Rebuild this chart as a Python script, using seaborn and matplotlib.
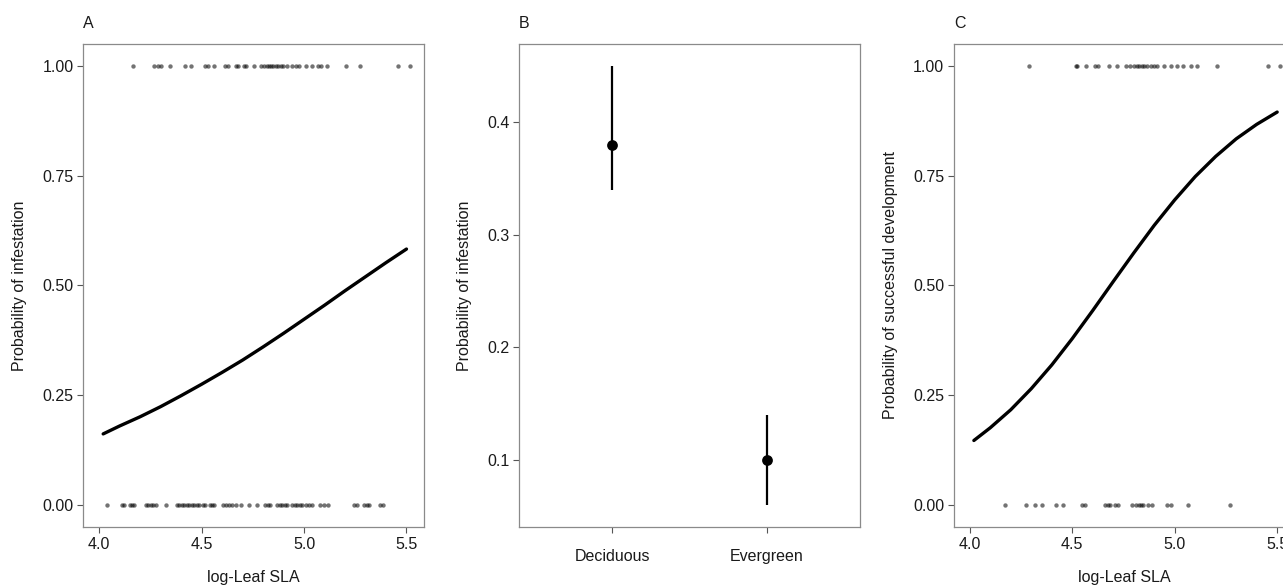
import numpy as np
import pandas as pd
import matplotlib
matplotlib.use('Agg')
import matplotlib.pyplot as plt
import seaborn as sns

# panel A: log leaf SLA of infested (1) and non-infested (0) species
sla_infested = [4.164, 4.270, 4.286, 4.302, 4.346, 4.420, 4.448, 4.515, 4.530, 4.562,
                4.613, 4.629, 4.668, 4.678, 4.709, 4.719, 4.755, 4.791, 4.804, 4.817,
                4.828, 4.840, 4.850, 4.861, 4.873, 4.886, 4.899, 4.915, 4.943, 4.959,
                4.976, 5.008, 5.041, 5.066, 5.082, 5.111, 5.207, 5.271, 5.457, 5.519]
sla_uninfested = [4.039, 4.113, 4.122, 4.150, 4.162, 4.171, 4.228, 4.240, 4.251, 4.264,
                  4.276, 4.327, 4.382, 4.392, 4.403, 4.415, 4.428, 4.441, 4.453, 4.464,
                  4.477, 4.490, 4.507, 4.518, 4.539, 4.551, 4.562, 4.607, 4.620, 4.632,
                  4.648, 4.668, 4.694, 4.730, 4.771, 4.812, 4.825, 4.836, 4.869, 4.882,
                  4.894, 4.907, 4.918, 4.943, 4.954, 4.967, 4.980, 4.992, 5.008, 5.024,
                  5.041, 5.078, 5.098, 5.118, 5.245, 5.261, 5.294, 5.307, 5.318, 5.373,
                  5.384]

# panel C: log leaf SLA where development succeeded (1) or failed (0)
sla_developed = [4.291, 4.516, 4.524, 4.565, 4.613, 4.627, 4.678, 4.719, 4.760, 4.784,
                 4.801, 4.814, 4.825, 4.841, 4.849, 4.866, 4.882, 4.898, 4.915, 4.947,
                 4.980, 5.009, 5.041, 5.081, 5.110, 5.204, 5.454, 5.516]
sla_failed = [4.171, 4.275, 4.316, 4.350, 4.423, 4.454, 4.549, 4.561, 4.662, 4.674,
              4.682, 4.711, 4.724, 4.792, 4.809, 4.825, 4.836, 4.846, 4.871, 4.887,
              4.963, 4.983, 5.064, 5.272]

# fitted curves
curve_sla = [4.02, 4.1, 4.2, 4.3, 4.4, 4.5, 4.6, 4.7, 4.8, 4.9, 5.0, 5.1, 5.2, 5.3, 5.4, 5.5]
curve_infest = [0.162, 0.180, 0.201, 0.224, 0.249, 0.275, 0.302, 0.330, 0.360, 0.391,
                0.423, 0.455, 0.488, 0.520, 0.552, 0.583]
curve_develop = [0.147, 0.176, 0.217, 0.265, 0.319, 0.379, 0.443, 0.509, 0.574, 0.637,
                 0.695, 0.748, 0.794, 0.834, 0.867, 0.895]

# panel B: leaf habit
habit = ['Deciduous', 'Evergreen']
habit_prob = [0.38, 0.10]
habit_lo = [0.34, 0.06]
habit_hi = [0.45, 0.14]

sns.set_style('white')
plt.rcParams['font.family'] = ['Liberation Sans', 'DejaVu Sans']

FRAME = '#8a8a8a'
TXT = 11.5


def binary_df(ones, zeros):
    return pd.DataFrame({
        'sla': list(ones) + list(zeros),
        'outcome': [1.0] * len(ones) + [0.0] * len(zeros),
    })


def style_axes(ax, letter, ylabel, xlabel=''):
    for sp in ax.spines.values():
        sp.set_visible(True)
        sp.set_color(FRAME)
        sp.set_linewidth(0.9)
    ax.tick_params(axis='both', direction='out', length=4, width=0.8,
                   color='#555555', labelcolor='#1a1a1a', labelsize=TXT, pad=3,
                   bottom=True, left=True)
    ax.set_ylabel(ylabel, fontsize=TXT, color='#1a1a1a', labelpad=11)
    ax.set_xlabel(xlabel, fontsize=TXT, color='#1a1a1a', labelpad=13)
    ax.text(0, 1.043, letter, transform=ax.transAxes, ha='left', va='center',
            fontsize=TXT, color='#1a1a1a')


def logistic_panel(ax, ones, zeros, cx, cy, letter, ylabel):
    df = binary_df(ones, zeros)
    sns.scatterplot(data=df, x='sla', y='outcome', ax=ax, color='black',
                    alpha=0.55, s=10, linewidth=0, legend=False)
    sns.lineplot(x=cx, y=cy, ax=ax, color='black', linewidth=2.4,
                 estimator=None, sort=True)
    ax.set_xlim(3.923, 5.587)
    ax.set_ylim(-0.05, 1.05)
    ax.set_xticks([4.0, 4.5, 5.0, 5.5])
    ax.set_xticklabels(['4.0', '4.5', '5.0', '5.5'])
    ax.set_yticks([0, 0.25, 0.5, 0.75, 1.0])
    ax.set_yticklabels(['0.00', '0.25', '0.50', '0.75', '1.00'])
    style_axes(ax, letter, ylabel, 'log-Leaf SLA')


fig = plt.figure(figsize=(12.83, 5.86), dpi=100)
bottom, height = 0.1007, 0.8242
width = 341 / 1283
ax_a = fig.add_axes([83.3 / 1283, bottom, width, height])
ax_b = fig.add_axes([519 / 1283, bottom, width, height])
ax_c = fig.add_axes([954 / 1283, bottom, width, height])

logistic_panel(ax_a, sla_infested, sla_uninfested, curve_sla, curve_infest,
               'A', 'Probability of infestation')
logistic_panel(ax_c, sla_developed, sla_failed, curve_sla, curve_develop,
               'C', 'Probability of successful development')

# panel B: point estimates with confidence intervals
hdf = pd.DataFrame({'habit': habit, 'prob': habit_prob,
                    'lo': habit_lo, 'hi': habit_hi})
ax_b.vlines(hdf['habit'], hdf['lo'], hdf['hi'], color='black', linewidth=1.6)
sns.scatterplot(data=hdf, x='habit', y='prob', ax=ax_b, color='black',
                s=60, linewidth=0, legend=False, zorder=3)
ax_b.set_xlim(-0.6, 1.6)
ax_b.set_ylim(0.0405, 0.4695)
ax_b.set_yticks([0.1, 0.2, 0.3, 0.4])
ax_b.set_yticklabels(['0.1', '0.2', '0.3', '0.4'])
style_axes(ax_b, 'B', 'Probability of infestation')
ax_b.tick_params(axis='x', pad=12)

fig.savefig('out.png', dpi=100)
